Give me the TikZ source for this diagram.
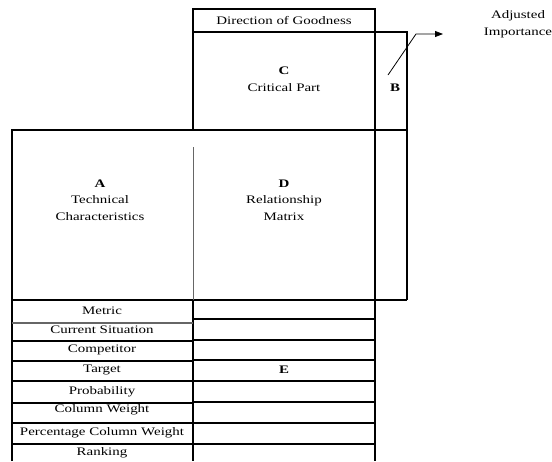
\documentclass[tikz,border=0pt]{standalone}
\usepackage{fontspec}
\setmainfont[FakeStretch=1.3]{Liberation Serif}
\usetikzlibrary{arrows.meta}
\begin{document}
\begin{tikzpicture}[x=1pt,y=-1pt,
  ln/.style={draw=black,line width=1.1pt},
  gl/.style={draw=black!60,line width=1.1pt},
  txt/.style={inner sep=0pt,align=center,font=\fontsize{11.5}{16.5}\selectfont},
  lbl/.style={txt}]
\useasboundingbox (0,0) rectangle (552,461);
% top part
\draw[ln] (193,9) rectangle (375,32);
\draw[ln] (193,32) -- (193,130);
\draw[ln] (193,32) -- (407,32) -- (407,300);
\draw[ln] (375,9) -- (375,461);
% big row
\draw[ln] (12,461) -- (12,130) -- (407,130);
\draw[ln] (12,300) -- (407,300);
\draw[gl] (193.5,147) -- (193.5,307);
\draw[ln] (193,300) -- (193,461);
% left table rows
\draw[gl] (12,323) -- (193,323);
\foreach \y in {341,361,381,403,423,444} \draw[ln] (12,\y) -- (193,\y);
% right table rows
\foreach \y in {319,340,360,381,402,423,444} \draw[ln] (193,\y) -- (375,\y);
% texts
\node[txt] (dog) at (284,21) {Direction of Goodness};
\node[txt] (c) at (284,79) {\textbf{C}\\Critical Part};
\node[txt] (b) at (395,88) {\textbf{B}};
\node[txt] (a) at (100,200) {\textbf{A}\\Technical\\Characteristics};
\node[txt] (d) at (284,200) {\textbf{D}\\Relationship\\Matrix};
\node[txt] (e) at (284,370) {\textbf{E}};
\node[txt] (adj) at (518,24) {Adjusted\\Importance};
\node[lbl] (r1) at (102,311) {Metric};
\node[lbl] (r2) at (102,330) {Current Situation};
\node[lbl] (r3) at (102,350) {Competitor};
\node[lbl] (r4) at (102,370) {Target};
\node[lbl] (r5) at (102,392) {Probability};
\node[lbl] (r6) at (102,410) {Column Weight};
\node[lbl] (r7) at (102,433) {Percentage Column Weight};
\node[lbl] (r8) at (102,453) {Ranking};
% arrow
\coordinate (p0) at (388,75);
\coordinate (p1) at (416,34);
\coordinate (p2) at (443,34);
\draw[line width=0.8pt,-{Triangle[length=8pt,width=6pt]}] (p0) -- (p1) -- (p2);
\end{tikzpicture}
\end{document}
